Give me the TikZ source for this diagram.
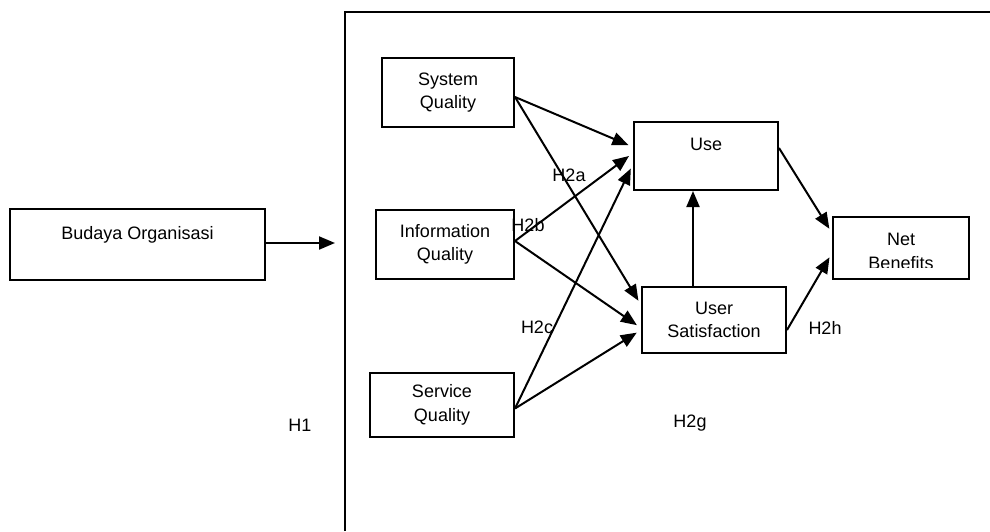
\documentclass[tikz,border=0pt]{standalone}
\usepackage{fontspec}
\setmainfont{Liberation Sans}
\usetikzlibrary{arrows.meta,calc}

\begin{document}
\begin{tikzpicture}[x=1pt,y=-1pt,
  every node/.style={font=\fontsize{18}{23.5}\selectfont, inner sep=0pt},
  box/.style={draw, line width=2pt, align=center, minimum width=#1},
  box/.default=140pt,
  link/.style={line width=2pt, -{Triangle[length=16pt,width=13pt]}, shorten >=5pt},
  hlabel/.style={}]
  \useasboundingbox (0,0) rectangle (990,531);

  % outer frame around the research model
  \draw[line width=2pt] (345,531) -- (345,12) -- (990,12);

  % constructs
  \node[box=255pt, minimum height=71pt] (bo) at (137.5,244.5) {Budaya Organisasi\\\mbox{}};
  \node[box=132pt, minimum height=69pt] (sq) at (448,92.5) {System\\Quality};
  \node[box=138pt, minimum height=69pt] (iq) at (445,244.5) {Information\\Quality};
  \node[box=144pt, minimum height=64pt] (svq) at (442,405) {Service\\Quality};
  \node[box=144pt, minimum height=68pt] (use) at (706,156) {Use\\\mbox{}};
  \node[box=144pt, minimum height=66pt] (us) at (714,320) {User\\Satisfaction};
  \node[box=136pt, minimum height=62pt] (nb) at (901,248) {};
  \begin{scope}
    \clip (833,217) rectangle (969,267);
    \node[align=center] at (901,251.5) {Net\\Benefits};
  \end{scope}

  % free end of the H1 arrow, at the frame
  \coordinate (frame) at (340,243);

  % paths
  \draw[link] ($(bo.east)+(0,-1.5)$) -- (frame);
  \draw[link] ($(sq.east)+(0,4.5)$) -- ($(use.west)+(0,-9)$);
  \draw[link] ($(sq.east)+(0,4.5)$) -- ($(us.west)+(0,-15)$);
  \draw[link] ($(iq.east)+(0,-3.5)$) -- ($(use.west)+(0,-3)$);
  \draw[link] ($(iq.east)+(0,-3.5)$) -- ($(us.west)+(0,8)$);
  \draw[link] ($(svq.east)+(0,3.5)$) -- ($(use.west)+(0,8)$);
  \draw[link] ($(svq.east)+(0,3.5)$) -- ($(us.west)+(0,10)$);
  \draw[link, shorten >=0pt] ($(us.north)+(-21,0)$) -- ($(use.south)+(-13,0)$);
  \draw[link] ($(use.east)+(0,-8)$) -- ($(nb.west)+(0,-15)$);
  \draw[link] ($(us.east)+(0,10)$) -- ($(nb.west)+(0,5)$);

  % hypothesis labels
  \node[hlabel] (h1) at (300,425) {H1};
  \node[hlabel] (h2a) at (569,175) {H2a};
  \node[hlabel] (h2b) at (528,225) {H2b};
  \node[hlabel] (h2c) at (537,327) {H2c};
  \node[hlabel] (h2g) at (690,423) {H2g};
  \node[hlabel] (h2h) at (825,328) {H2h};
\end{tikzpicture}
\end{document}
